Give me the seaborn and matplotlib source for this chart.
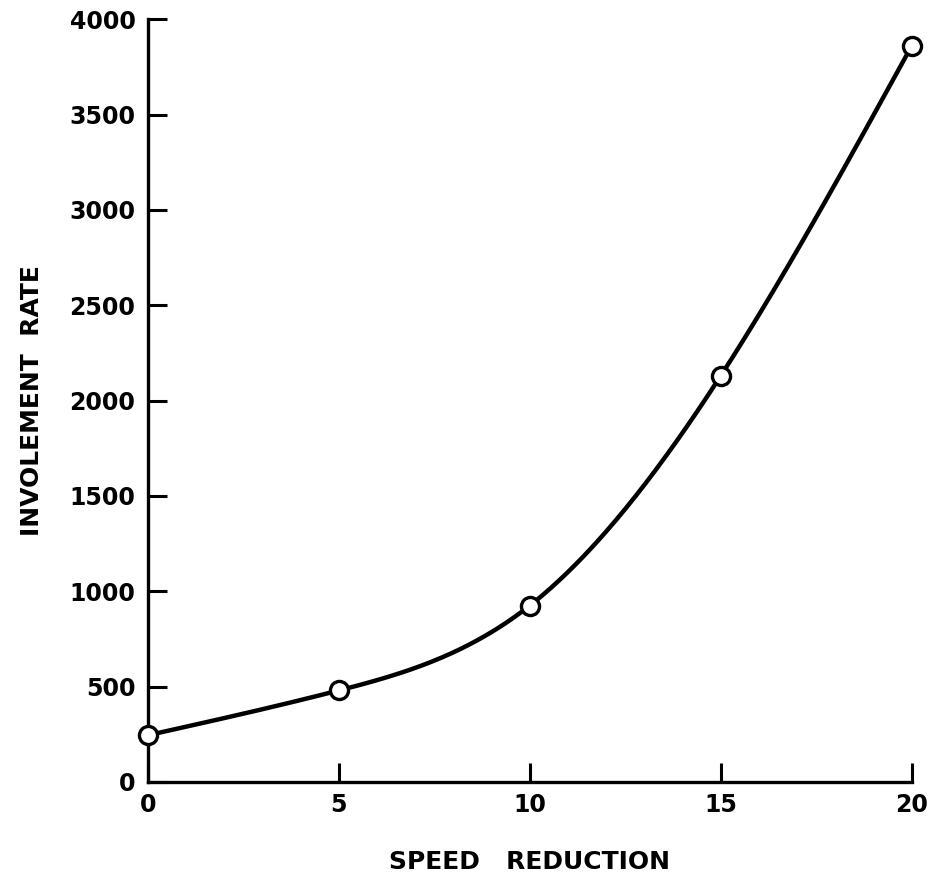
import numpy as np
import pandas as pd
import matplotlib
matplotlib.use("Agg")
import matplotlib.pyplot as plt
import seaborn as sns

speed_reduction = [0, 5, 10, 15, 20]
involvement_rate = [245, 480, 925, 2130, 3860]
x_ticks = [0, 5, 10, 15, 20]
y_ticks = [0, 500, 1000, 1500, 2000, 2500, 3000, 3500, 4000]

df = pd.DataFrame({"speed": speed_reduction, "rate": involvement_rate})

# smooth drawn curve through the read points (natural cubic spline, display only)
def natural_spline(x, y, xs):
    x = np.asarray(x, float)
    y = np.asarray(y, float)
    n = len(x)
    h = np.diff(x)
    A = np.zeros((n, n))
    b = np.zeros(n)
    A[0, 0] = 1
    A[-1, -1] = 1
    for i in range(1, n - 1):
        A[i, i - 1] = h[i - 1]
        A[i, i] = 2 * (h[i - 1] + h[i])
        A[i, i + 1] = h[i]
        b[i] = 6 * ((y[i + 1] - y[i]) / h[i] - (y[i] - y[i - 1]) / h[i - 1])
    M = np.linalg.solve(A, b)
    out = np.empty_like(xs)
    for k, xv in enumerate(xs):
        i = min(np.searchsorted(x, xv) - 1, n - 2)
        i = max(i, 0)
        t0 = x[i + 1] - xv
        t1 = xv - x[i]
        out[k] = (M[i] * t0**3 + M[i + 1] * t1**3) / (6 * h[i]) \
            + (y[i] / h[i] - M[i] * h[i] / 6) * t0 \
            + (y[i + 1] / h[i] - M[i + 1] * h[i] / 6) * t1
    return out

xs = np.linspace(df["speed"].min(), df["speed"].max(), 300)
curve = pd.DataFrame({"speed": xs, "rate": natural_spline(df["speed"], df["rate"], xs)})

sns.set_style("white")
plt.rcParams["font.family"] = ["DejaVu Sans"]

fig = plt.figure(figsize=(9.36, 8.75), dpi=100)
ax = fig.add_axes([0.158, 0.1063, 0.816, 0.8717])

sns.lineplot(data=curve, x="speed", y="rate", ax=ax, color="black", linewidth=3.2)
sns.scatterplot(data=df, x="speed", y="rate", ax=ax, s=170, color="white",
                edgecolor="black", linewidth=2.4, zorder=5, clip_on=False)

ax.set_xlim(0, 20)
ax.set_ylim(0, 4000)
ax.set_xticks(x_ticks)
ax.set_yticks(y_ticks)
ax.tick_params(bottom=True, left=True, direction="in", length=14, width=2.2,
               color="black", labelsize=17, labelcolor="black")
ax.tick_params(axis="y", pad=9)
ax.tick_params(axis="x", pad=8)
for lab in ax.get_xticklabels() + ax.get_yticklabels():
    lab.set_fontweight("bold")

sns.despine(ax=ax)
for side in ["left", "bottom"]:
    ax.spines[side].set_linewidth(2.4)
    ax.spines[side].set_color("black")

ax.set_xlabel("SPEED   REDUCTION", fontsize=18, fontweight="bold", labelpad=24, color="black")
ax.set_ylabel("INVOLEMENT  RATE", fontsize=18, fontweight="bold", labelpad=18, color="black")

plt.savefig("out.png", dpi=100)
